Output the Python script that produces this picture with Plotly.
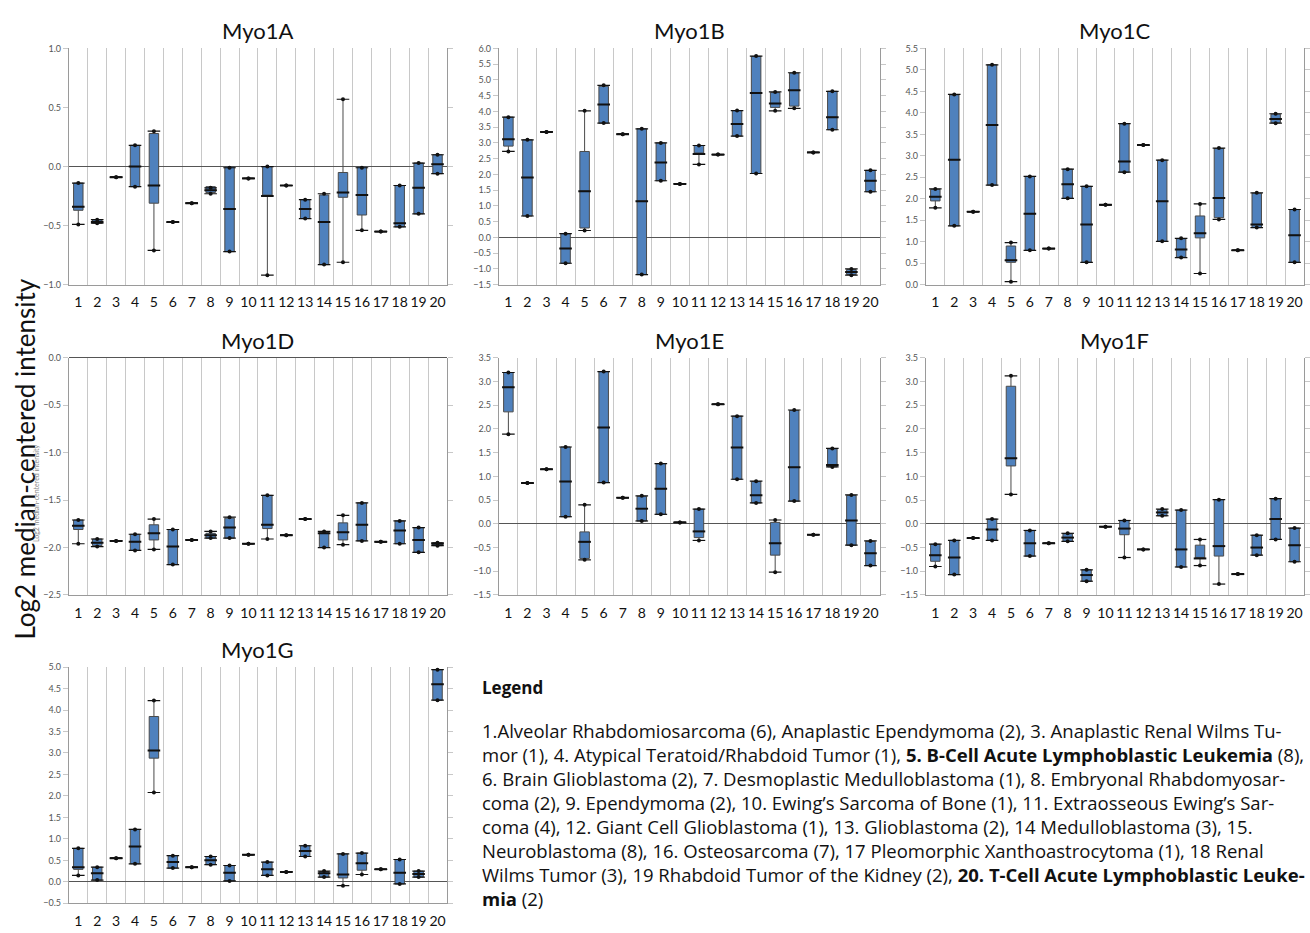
import plotly.graph_objects as go

W, H = 1310, 933

CATEGORIES = list(range(1, 21))
TICK_LABELS = [str(c) for c in CATEGORIES]

# (min, q1, median, q3, max) per tumor group 1..20
MYO1A = [(-0.49, -0.37, -0.34, -0.14, -0.14), (-0.48, -0.48, -0.47, -0.45, -0.45), (-0.09, -0.09, -0.09, -0.09, -0.09),
         (-0.17, -0.17, 0.0, 0.18, 0.18), (-0.71, -0.31, -0.16, 0.28, 0.30), (-0.47, -0.47, -0.47, -0.47, -0.47),
         (-0.31, -0.31, -0.31, -0.31, -0.31), (-0.23, -0.22, -0.20, -0.17, -0.18), (-0.72, -0.72, -0.36, 0.0, -0.01),
         (-0.10, -0.10, -0.10, -0.10, -0.10), (-0.92, -0.25, -0.25, 0.0, 0.0), (-0.16, -0.16, -0.16, -0.16, -0.16),
         (-0.44, -0.44, -0.36, -0.28, -0.28), (-0.83, -0.83, -0.47, -0.24, -0.23), (-0.81, -0.26, -0.22, -0.05, 0.57),
         (-0.54, -0.41, -0.24, 0.0, -0.01), (-0.55, -0.55, -0.55, -0.55, -0.55), (-0.51, -0.51, -0.48, -0.16, -0.16),
         (-0.40, -0.40, -0.18, 0.03, 0.03), (-0.06, -0.06, 0.02, 0.10, 0.10)]
MYO1B = [(2.73, 2.90, 3.12, 3.82, 3.82), (0.68, 0.68, 1.90, 3.10, 3.10), (3.35, 3.35, 3.35, 3.35, 3.35),
         (-0.82, -0.82, -0.35, 0.12, 0.12), (0.22, 0.30, 1.47, 2.73, 4.02), (3.63, 3.63, 4.22, 4.80, 4.83),
         (3.28, 3.28, 3.28, 3.28, 3.28), (-1.18, -1.18, 1.15, 3.45, 3.45), (1.80, 1.80, 2.38, 3.00, 3.00),
         (1.70, 1.70, 1.70, 1.70, 1.70), (2.32, 2.65, 2.65, 2.92, 2.92), (2.63, 2.63, 2.63, 2.63, 2.63),
         (3.22, 3.22, 3.60, 4.03, 4.03), (2.03, 2.03, 4.59, 5.75, 5.76), (4.02, 4.13, 4.25, 4.60, 4.62),
         (4.10, 4.17, 4.67, 5.22, 5.23), (2.70, 2.70, 2.70, 2.70, 2.70), (3.42, 3.42, 3.82, 4.64, 4.64),
         (-1.20, -1.18, -1.10, -1.02, -1.00), (1.45, 1.45, 1.80, 2.13, 2.13)]
MYO1C = [(1.79, 1.95, 2.05, 2.22, 2.23), (1.37, 1.37, 2.91, 4.42, 4.43), (1.70, 1.70, 1.70, 1.70, 1.70),
         (2.32, 2.32, 3.72, 5.12, 5.12), (0.07, 0.52, 0.57, 0.90, 0.98), (0.80, 0.80, 1.65, 2.52, 2.52),
         (0.84, 0.84, 0.84, 0.84, 0.84), (2.01, 2.01, 2.34, 2.69, 2.69), (0.52, 0.52, 1.40, 2.29, 2.29),
         (1.86, 1.86, 1.86, 1.86, 1.86), (2.62, 2.62, 2.87, 3.75, 3.75), (3.25, 3.25, 3.25, 3.25, 3.25),
         (1.01, 1.01, 1.94, 2.90, 2.90), (0.63, 0.64, 0.82, 1.07, 1.08), (0.26, 1.09, 1.20, 1.60, 1.88),
         (1.52, 1.56, 2.02, 3.17, 3.18), (0.80, 0.80, 0.80, 0.80, 0.80), (1.33, 1.33, 1.40, 2.13, 2.14),
         (3.76, 3.77, 3.86, 3.97, 3.98), (0.52, 0.52, 1.15, 1.75, 1.75)]
MYO1D = [(-1.96, -1.81, -1.77, -1.71, -1.71), (-1.99, -1.98, -1.95, -1.91, -1.91), (-1.93, -1.93, -1.93, -1.93, -1.93),
         (-2.03, -2.03, -1.94, -1.86, -1.86), (-2.02, -1.92, -1.85, -1.76, -1.70), (-2.18, -2.18, -1.99, -1.81, -1.81),
         (-1.92, -1.92, -1.92, -1.92, -1.92), (-1.90, -1.90, -1.87, -1.85, -1.83), (-1.90, -1.90, -1.79, -1.69, -1.68),
         (-1.96, -1.96, -1.96, -1.96, -1.96), (-1.91, -1.80, -1.76, -1.45, -1.45), (-1.87, -1.87, -1.87, -1.87, -1.87),
         (-1.70, -1.70, -1.70, -1.70, -1.70), (-2.00, -2.00, -1.85, -1.84, -1.83), (-1.97, -1.92, -1.84, -1.74, -1.66),
         (-1.93, -1.93, -1.76, -1.53, -1.53), (-1.94, -1.94, -1.94, -1.94, -1.94), (-1.96, -1.96, -1.82, -1.72, -1.72),
         (-2.05, -2.05, -1.92, -1.79, -1.79), (-1.98, -1.98, -1.96, -1.95, -1.95)]
MYO1E = [(1.89, 2.36, 2.88, 3.19, 3.19), (0.86, 0.86, 0.86, 0.86, 0.86), (1.15, 1.15, 1.15, 1.15, 1.15),
         (0.15, 0.15, 0.89, 1.62, 1.62), (-0.76, -0.73, -0.38, -0.17, 0.40), (0.87, 0.87, 2.03, 3.21, 3.21),
         (0.55, 0.55, 0.55, 0.55, 0.55), (0.06, 0.06, 0.32, 0.58, 0.59), (0.20, 0.20, 0.74, 1.27, 1.27),
         (0.03, 0.03, 0.03, 0.03, 0.03), (-0.35, -0.29, -0.16, 0.31, 0.31), (2.52, 2.52, 2.52, 2.52, 2.52),
         (0.94, 0.94, 1.61, 2.27, 2.27), (0.44, 0.44, 0.60, 0.89, 0.90), (-1.02, -0.66, -0.41, 0.03, 0.08),
         (0.48, 0.48, 1.19, 2.39, 2.40), (-0.23, -0.23, -0.23, -0.23, -0.23), (1.20, 1.20, 1.24, 1.58, 1.59),
         (-0.45, -0.45, 0.07, 0.60, 0.61), (-0.88, -0.88, -0.62, -0.37, -0.36)]
MYO1F = [(-0.90, -0.79, -0.66, -0.43, -0.43), (-1.07, -1.07, -0.71, -0.35, -0.35), (-0.30, -0.30, -0.30, -0.30, -0.30),
         (-0.35, -0.35, -0.12, 0.10, 0.10), (0.62, 1.22, 1.38, 2.90, 3.12), (-0.68, -0.68, -0.41, -0.14, -0.14),
         (-0.41, -0.41, -0.41, -0.41, -0.41), (-0.37, -0.37, -0.29, -0.21, -0.20), (-1.21, -1.21, -1.08, -0.97, -0.97),
         (-0.06, -0.06, -0.06, -0.06, -0.06), (-0.71, -0.23, -0.10, 0.07, 0.07), (-0.54, -0.54, -0.54, -0.54, -0.54),
         (0.17, 0.17, 0.24, 0.30, 0.31), (-0.91, -0.91, -0.54, 0.29, 0.29), (-0.88, -0.73, -0.73, -0.45, -0.33),
         (-1.27, -0.68, -0.47, 0.51, 0.51), (-1.06, -1.06, -1.06, -1.06, -1.06), (-0.66, -0.66, -0.50, -0.24, -0.24),
         (-0.33, -0.33, 0.10, 0.53, 0.53), (-0.80, -0.80, -0.45, -0.09, -0.09)]
MYO1G = [(0.15, 0.29, 0.34, 0.78, 0.78), (0.04, 0.04, 0.20, 0.34, 0.34), (0.55, 0.55, 0.55, 0.55, 0.55),
         (0.42, 0.42, 0.82, 1.22, 1.22), (2.08, 2.88, 3.06, 3.85, 4.22), (0.32, 0.32, 0.46, 0.61, 0.61),
         (0.34, 0.34, 0.34, 0.34, 0.34), (0.40, 0.40, 0.50, 0.59, 0.59), (0.02, 0.02, 0.21, 0.38, 0.38),
         (0.63, 0.63, 0.63, 0.63, 0.63), (0.15, 0.15, 0.29, 0.46, 0.46), (0.23, 0.23, 0.23, 0.23, 0.23),
         (0.59, 0.59, 0.72, 0.84, 0.84), (0.11, 0.11, 0.20, 0.24, 0.25), (-0.09, 0.09, 0.17, 0.65, 0.65),
         (0.17, 0.27, 0.43, 0.67, 0.67), (0.29, 0.29, 0.29, 0.29, 0.29), (-0.05, -0.05, 0.21, 0.52, 0.52),
         (0.11, 0.11, 0.18, 0.25, 0.25), (4.23, 4.23, 4.60, 4.94, 4.94)]

GENES = ["Myo1A", "Myo1B", "Myo1C", "Myo1D", "Myo1E", "Myo1F", "Myo1G"]
SERIES = [MYO1A, MYO1B, MYO1C, MYO1D, MYO1E, MYO1F, MYO1G]
Y_RANGES = [(-1.0, 1.0), (-1.5, 6.0), (0.0, 5.5), (-2.5, 0.0), (-1.5, 3.5), (-1.5, 3.5), (-0.5, 5.0)]

Y_TITLE = "Log2 median-centered intensity"
LEGEND_TITLE = "Legend"
LEGEND_LINES = [
    "1.Alveolar Rhabdomiosarcoma (6), Anaplastic Ependymoma (2), 3. Anaplastic Renal Wilms Tu-",
    "mor (1), 4. Atypical Teratoid/Rhabdoid Tumor (1), <b>5. B-Cell Acute Lymphoblastic Leukemia</b> (8),",
    "6. Brain Glioblastoma (2), 7. Desmoplastic Medulloblastoma (1), 8. Embryonal Rhabdomyosar-",
    "coma (2), 9. Ependymoma (2), 10. Ewing’s Sarcoma of Bone (1), 11. Extraosseous Ewing’s Sar-",
    "coma (4), 12. Giant Cell Glioblastoma (1), 13. Glioblastoma (2), 14 Medulloblastoma (3), 15.",
    "Neuroblastoma (8), 16. Osteosarcoma (7), 17 Pleomorphic Xanthoastrocytoma (1), 18 Renal",
    "Wilms Tumor (3), 19 Rhabdoid Tumor of the Kidney (2), <b>20. T-Cell Acute Lymphoblastic Leuke-</b>",
    "<b>mia</b> (2)",
]

# panel layout in pixels: (left, right, top, bottom)
COLS = [(69, 448), (500, 882), (928, 1307)]
ROWS = [(43, 282), (356, 596), (669, 908)]

BOX_FILL = "#4f81bd"
FONT = "Lato"


def px_x(p):
    return p / W


def px_y(p):
    return 1 - p / H


fig = go.Figure()
annotations = []

for i, (gene, data, yr) in enumerate(zip(GENES, SERIES, Y_RANGES)):
    r, c = divmod(i, 3)
    l, rr = COLS[c]
    t, b = ROWS[r]
    n = i + 1
    xa = "x" if n == 1 else f"x{n}"
    ya = "y" if n == 1 else f"y{n}"
    mins = [d[0] for d in data]
    q1 = [d[1] for d in data]
    med = [d[2] for d in data]
    q3 = [d[3] for d in data]
    maxs = [d[4] for d in data]
    fig.add_trace(go.Box(
        x=CATEGORIES, q1=q1, median=med, q3=q3,
        lowerfence=mins, upperfence=maxs,
        width=0.5, whiskerwidth=0,
        fillcolor=BOX_FILL, line=dict(color="#4a4a4a", width=1),
        boxpoints=False, showlegend=False, xaxis=xa, yaxis=ya,
    ))
    # thicker black median bars
    fig.add_trace(go.Scatter(
        x=CATEGORIES, y=med, mode="markers",
        marker=dict(symbol="line-ew", size=9, line=dict(color="#111", width=2)),
        showlegend=False, hoverinfo="skip", xaxis=xa, yaxis=ya,
    ))
    # whisker-end caps and dots
    fig.add_trace(go.Scatter(
        x=CATEGORIES + CATEGORIES, y=mins + maxs, mode="markers",
        marker=dict(symbol="line-ew", size=9, line=dict(color="#111", width=1.2)),
        showlegend=False, hoverinfo="skip", xaxis=xa, yaxis=ya,
    ))
    fig.add_trace(go.Scatter(
        x=CATEGORIES + CATEGORIES, y=mins + maxs, mode="markers",
        marker=dict(symbol="circle", size=4, color="#111"),
        showlegend=False, xaxis=xa, yaxis=ya,
    ))
    xkey = "xaxis" if n == 1 else f"xaxis{n}"
    ykey = "yaxis" if n == 1 else f"yaxis{n}"
    fig.layout[xkey] = dict(
        domain=[px_x(l), px_x(rr)], anchor=ya, range=[0.5, 20.5],
        tickmode="array", tickvals=CATEGORIES, ticktext=TICK_LABELS, tickangle=0,
        showgrid=False, zeroline=False, showline=True, linecolor="#9a9a9a", linewidth=1,
        ticks="", ticklabelstandoff=5, tickfont=dict(family=FONT, size=14, color="#111"),
        minor=dict(tickmode="array", tickvals=[k + 0.5 for k in range(0, 21)],
                   showgrid=True, gridcolor="#c8c8c8", gridwidth=1, ticks=""),
        fixedrange=True,
    )
    fig.layout[ykey] = dict(
        domain=[px_y(b), px_y(t)], anchor=xa, range=list(yr), dtick=0.5, tick0=0,
        tickformat=".1f", showgrid=False, zeroline=True, zerolinecolor="#555", zerolinewidth=1,
        showline=True, linecolor="#9a9a9a", linewidth=1, mirror="ticks",
        ticks="outside", ticklen=5, tickcolor="#c8c8c8",
        tickfont=dict(family=FONT, size=9, color="#555"), fixedrange=True,
    )
    annotations.append(dict(
        text=gene, x=px_x((l + rr) / 2), y=px_y(t - 18), xref="paper", yref="paper",
        showarrow=False, xanchor="center", yanchor="middle",
        font=dict(family=FONT, size=22, color="#111"),
    ))

annotations.append(dict(
    text=Y_TITLE, x=px_x(25), y=px_y(458), xref="paper", yref="paper", textangle=-90,
    showarrow=False, xanchor="center", yanchor="middle",
    font=dict(family=FONT, size=26, color="#111"),
))
annotations.append(dict(
    text=Y_TITLE, x=px_x(36), y=px_y(493), xref="paper", yref="paper", textangle=-90,
    showarrow=False, xanchor="center", yanchor="middle",
    font=dict(family=FONT, size=7, color="#888"),
))
annotations.append(dict(
    text="<b>" + LEGEND_TITLE + "</b>", x=px_x(481), y=px_y(690), xref="paper", yref="paper",
    showarrow=False, xanchor="left", yanchor="middle",
    font=dict(family="Open Sans", size=17, color="#111"),
))
annotations.append(dict(
    text="<br>".join(LEGEND_LINES), x=px_x(481), y=px_y(718), xref="paper", yref="paper",
    showarrow=False, xanchor="left", yanchor="top", align="left",
    font=dict(family="Open Sans", size=18.5, color="#111"),
))

fig.update_layout(
    width=W, height=H, margin=dict(l=0, r=0, t=0, b=0),
    paper_bgcolor="white", plot_bgcolor="white",
    annotations=annotations, showlegend=False,
)

fig.write_html("out.html", config={"displayModeBar": False},
               post_script="document.body.style.margin='0px';")
